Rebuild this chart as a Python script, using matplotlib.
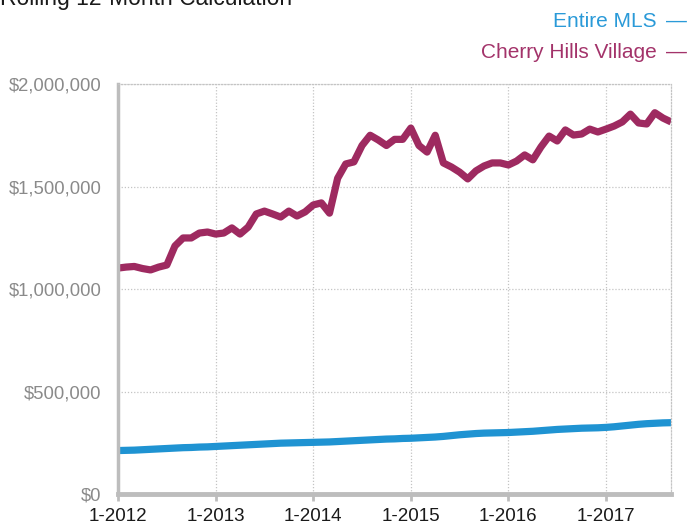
import matplotlib
matplotlib.use("Agg")
import matplotlib.pyplot as plt
from matplotlib.ticker import FuncFormatter

plt.rcParams['font.family'] = ['Liberation Sans', 'DejaVu Sans']

# monthly rolling 12-month values, 1-2012 .. 9-2017
year_labels = ["1-2012", "1-2013", "1-2014", "1-2015", "1-2016", "1-2017"]

cherry_hills = [
    1102000, 1107000, 1110000, 1100000, 1093000, 1107000, 1117000, 1210000, 1249000, 1249000, 1273000, 1278000,
    1268000, 1273000, 1298000, 1268000, 1302000, 1366000, 1380000, 1366000, 1351000, 1380000, 1356000, 1376000,
    1410000, 1420000, 1370000, 1540000, 1610000, 1620000, 1700000, 1750000, 1727000, 1700000, 1730000, 1730000,
    1785000, 1700000, 1668000, 1750000, 1615000, 1595000, 1570000, 1537000, 1576000, 1600000, 1615000, 1615000,
    1605000, 1624000, 1654000, 1630000, 1693000, 1746000, 1722000, 1776000, 1751000, 1756000, 1780000, 1766000,
    1780000, 1795000, 1815000, 1853000, 1810000, 1805000, 1860000, 1834000, 1815000,
]

entire_mls = [
    212000, 213000, 214000, 216000, 218000, 220000, 222000, 224000, 226000, 227000, 229000, 230000,
    232000, 234000, 236000, 238000, 240000, 242000, 244000, 246000, 248000, 249000, 250000, 251000,
    252000, 253000, 254000, 256000, 258000, 260000, 262000, 264000, 266000, 268000, 269000, 271000,
    272000, 274000, 276000, 278000, 281000, 285000, 289000, 292000, 295000, 297000, 298000, 299000,
    300000, 302000, 304000, 306000, 309000, 312000, 315000, 317000, 319000, 321000, 322000, 323000,
    325000, 328000, 332000, 336000, 340000, 343000, 345000, 347000, 348000,
]

months = list(range(len(cherry_hills)))

blue = '#1f93d2'
plum = '#9e2a60'
grey = '#bdbdbd'

fig = plt.figure(figsize=(6.89, 5.27), dpi=100)
ax = fig.add_axes([0.1713, 0.0626, 0.8027, 0.778])

ax.plot(months, entire_mls, color=blue, lw=5.2, solid_capstyle='butt', solid_joinstyle='round')
ax.plot(months, cherry_hills, color=plum, lw=5.2, solid_capstyle='butt', solid_joinstyle='round')

ax.set_xlim(0, months[-1])
ax.set_ylim(0, 2000000)
ax.set_yticks([0, 500000, 1000000, 1500000, 2000000])
ax.yaxis.set_major_formatter(FuncFormatter(lambda v, p: "${:,.0f}".format(v)))
ax.set_xticks(range(0, len(months), 12))
ax.set_xticklabels(year_labels)

ax.grid(True, color='#c4c4c4', linestyle=(0, (1, 1.5)), linewidth=0.9)
ax.set_axisbelow(True)

for side in ['top', 'right']:
    ax.spines[side].set_color('#c4c4c4')
    ax.spines[side].set_linestyle((0, (1, 1.5)))
    ax.spines[side].set_linewidth(0.9)
ax.spines['left'].set_color(grey)
ax.spines['left'].set_linewidth(2.5)
ax.spines['bottom'].set_color(grey)
ax.spines['bottom'].set_linewidth(3.5)

ax.tick_params(axis='y', length=0, pad=12, labelsize=13.3, labelcolor='#8a8a8a')
ax.tick_params(axis='x', length=5, width=2, color=grey, pad=5, labelsize=13.5, labelcolor='#1a1a1a')

fig.text(0.0, 1 - 5/527, "Rolling 12-Month Calculation", fontsize=16.5, color='#1a1a1a',
         ha='left', va='baseline')

fig.text(657/689, 1 - 27/527, "Entire MLS", fontsize=15, color='#2a9ad8', ha='right', va='baseline')
fig.text(687/689, 1 - 27/527, "\u2014", fontsize=15, color='#2a9ad8', ha='right', va='baseline')
fig.text(657/689, 1 - 58/527, "Cherry Hills Village", fontsize=15, color='#a3336a', ha='right', va='baseline')
fig.text(687/689, 1 - 58/527, "\u2014", fontsize=15, color='#a3336a', ha='right', va='baseline')

fig.savefig("out.png", dpi=100)
